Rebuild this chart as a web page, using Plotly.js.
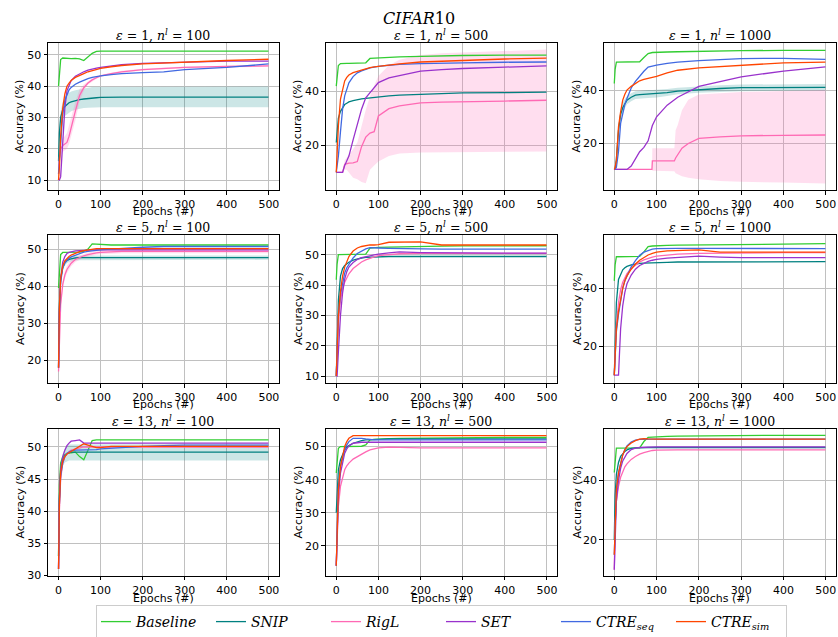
<!DOCTYPE html>
<html>
<head>
<meta charset="utf-8">
<script src="https://cdn.plot.ly/plotly-3.0.1.min.js"></script>
<style>html,body{margin:0;padding:0;background:#fff;}#chart{width:838px;height:637px;}</style>
</head>
<body>
<div id="chart"></div>
<script>
// ---------------- DATA ----------------
const methods = ['Baseline', 'SNIP', 'RigL', 'SET', 'CTRE<sub>seq</sub>', 'CTRE<sub>sim</sub>'];
const panelTitles = [
  '<i>ε</i> = 1, <i>n</i><sup><i>l</i></sup> = 100', '<i>ε</i> = 1, <i>n</i><sup><i>l</i></sup> = 500', '<i>ε</i> = 1, <i>n</i><sup><i>l</i></sup> = 1000',
  '<i>ε</i> = 5, <i>n</i><sup><i>l</i></sup> = 100', '<i>ε</i> = 5, <i>n</i><sup><i>l</i></sup> = 500', '<i>ε</i> = 5, <i>n</i><sup><i>l</i></sup> = 1000',
  '<i>ε</i> = 13, <i>n</i><sup><i>l</i></sup> = 100', '<i>ε</i> = 13, <i>n</i><sup><i>l</i></sup> = 500', '<i>ε</i> = 13, <i>n</i><sup><i>l</i></sup> = 1000'
];
const xTitle = 'Epochs (#)';
const yTitle = 'Accuracy (%)';
const epochs = [0, 2, 5, 10, 15, 20, 25, 30, 40, 50, 60, 70, 80, 90, 100, 125, 150, 200, 250, 300, 400, 499];
const xTicks = [0, 100, 200, 300, 400, 500];

// panel 1: eps=1, n=100
const p1_baseline = [40, 45, 48.5, 49, 48.9, 48.8, 48.8, 48.8, 48.9, 48.7, 48.2, 49.3, 50.5, 51.1, 51.2, 51.2, 51.2, 51.2, 51.2, 51.2, 51.2, 51.2];
const p1_snip     = [16, 25, 30, 32.5, 33.5, 34.2, 34.7, 35.0, 35.4, 35.7, 35.9, 36.1, 36.2, 36.3, 36.4, 36.5, 36.5, 36.5, 36.5, 36.5, 36.5, 36.5];
const p1_snip_lo  = [16, 24, 28, 30, 30.5, 31, 31.5, 32, 32.5, 32.8, 33, 33.1, 33.2, 33.2, 33.3, 33.3, 33.3, 33.3, 33.3, 33.3, 33.3, 33.3];
const p1_snip_hi  = [16, 26, 32, 35, 36.5, 37.5, 38, 38.3, 38.7, 39, 39.3, 39.5, 39.7, 39.8, 39.9, 39.9, 39.9, 39.9, 39.9, 39.9, 39.9, 39.9];
const p1_rigl     = [12, 17, 20, 21, 21.5, 22, 24, 27, 32, 37, 39.5, 41, 42, 42.7, 43.3, 44, 44.6, 45.3, 45.7, 46, 46.3, 46.5];
const p1_rigl_lo  = [12, 16, 18, 19, 19.5, 20, 21.5, 24, 29, 35, 38.5, 40.5, 41.5, 42.3, 43, 43.7, 44.3, 45, 45.4, 45.7, 46, 46.2];
const p1_rigl_hi  = [12, 18, 22, 23.5, 24, 25, 27, 30, 35, 39, 40.5, 41.5, 42.5, 43.1, 43.6, 44.3, 44.9, 45.6, 46, 46.3, 46.6, 46.8];
const p1_set      = [10, 10, 11, 22, 33, 38.5, 40.5, 41.8, 43.2, 44, 44.6, 45.1, 45.5, 45.8, 46, 46.5, 46.9, 47.3, 47.5, 47.7, 48, 48];
const p1_seq      = [12, 16, 22, 31, 35.5, 37.5, 38.8, 39.6, 40.6, 41.3, 41.9, 42.4, 42.8, 43.1, 43.3, 43.7, 44.0, 44.3, 44.6, 45.3, 46.0, 47.1];
const p1_sim      = [10, 14, 24, 33, 37.5, 40, 41, 41.8, 42.8, 43.5, 44, 44.6, 45, 45.4, 45.7, 46.2, 46.6, 47.1, 47.4, 47.7, 48.2, 48.6];

// panel 2: eps=1, n=500
const p2_baseline = [41.8, 46, 49.4, 50.1, 50.2, 50.2, 50.2, 50.2, 50.2, 50.2, 50.3, 50.4, 52, 52.1, 52.3, 52.5, 52.6, 52.8, 53, 53.1, 53.2, 53.2];
const p2_snip     = [21, 26, 30, 32.5, 34, 35, 35.5, 36, 36.5, 36.9, 37.1, 37.3, 37.5, 37.7, 37.8, 38.2, 38.5, 38.8, 39.1, 39.3, 39.4, 39.6];
const p2_rigl     = [10, 10, 10, 10, 10, 13, 13.3, 13.4, 13.5, 14, 19.5, 23, 24.5, 25, 30.8, 33.5, 34.5, 35.6, 35.9, 36.1, 36.3, 36.6];
const p2_rigl_lo  = [10, 10, 10, 10, 10, 11, 11, 10, 8, 7.5, 6.5, 6, 11, 12.5, 14, 16, 17, 17.3, 17.4, 17.5, 17.6, 17.7];
const p2_rigl_hi  = [10, 10, 10, 10, 10, 14.5, 15.5, 16.5, 18.5, 21, 27, 33, 38, 42, 45.5, 49.5, 51.5, 53.3, 53.9, 54.3, 54.8, 55.3];
const p2_set      = [10, 10, 10, 10, 10, 12.5, 14, 16, 22, 27.2, 33.3, 37.5, 39.5, 41.5, 43.1, 44.8, 45.6, 47.3, 47.9, 48.3, 48.8, 49.3];
const p2_seq      = [10, 12, 16, 25, 33.3, 38.2, 40.7, 43, 45.3, 46.7, 47.4, 48, 48.5, 48.8, 49.1, 49.5, 49.8, 50.1, 50.3, 50.4, 50.6, 50.7];
const p2_sim      = [10, 18, 27.2, 37, 41, 43.7, 45, 45.9, 46.8, 47.3, 47.8, 48.2, 48.6, 48.9, 49.1, 49.6, 50.0, 50.7, 51.0, 51.2, 51.8, 52.1];

// panel 3: eps=1, n=1000
const p3_baseline = [42.7, 48, 50.8, 50.8, 50.8, 50.8, 50.8, 50.8, 50.8, 50.8, 50.9, 52.5, 54, 54.4, 54.5, 54.6, 54.7, 54.9, 55, 55.1, 55.2, 55.2];
const p3_snip     = [10.2, 10.2, 14, 25, 31, 33.5, 35, 36.4, 37.5, 38.3, 38.5, 38.6, 38.7, 38.7, 38.7, 39.2, 39.8, 40.4, 40.8, 41.1, 41.2, 41.2];
const p3_snip_lo  = [10.2, 10.2, 13, 23, 29, 31.5, 33.3, 34.8, 36, 36.8, 37, 37.1, 37.2, 37.3, 37.4, 38, 38.6, 39.2, 39.6, 39.8, 39.9, 39.9];
const p3_snip_hi  = [10.2, 10.2, 15, 27, 33, 35.5, 36.8, 38, 39, 39.8, 40, 40.1, 40.2, 40.2, 40.2, 40.6, 41.1, 41.6, 42, 42.3, 42.5, 42.5];
const p3_rigl_x   = [0, 89, 90, 142, 145, 150, 160, 175, 200, 250, 300, 400, 499];
const p3_rigl     = [10.2, 10.2, 13.4, 13.4, 14.5, 15.6, 18.2, 20, 21.9, 22.5, 22.9, 23.1, 23.2];
const p3_rigl_lo  = [10.2, 10.2, 9.7, 9.5, 8.7, 8.3, 7.6, 7.0, 6.5, 5.8, 5.5, 5.2, 4.9];
const p3_rigl_hi  = [10.2, 10.2, 18.2, 18.2, 25, 27, 32.6, 36.5, 38.5, 39, 39.5, 39.9, 40.2];
const p3_set      = [10.2, 10.2, 10.2, 10.2, 10.2, 10.2, 10.2, 10.2, 11.5, 14.2, 16.9, 18.5, 21, 26.8, 30.1, 34.5, 37.5, 41.6, 43.3, 45.2, 47.4, 49];
const p3_seq      = [10.2, 10.2, 11, 17, 27.6, 31.5, 34.8, 37, 41, 43.5, 45.5, 47.3, 48.9, 49.3, 49.6, 50.3, 50.8, 51.3, 51.8, 52.1, 52.2, 51.8];
const p3_sim      = [10.2, 11, 13.7, 26.3, 32, 36.4, 38.6, 40.2, 41.6, 42.7, 43.7, 44.2, 44.6, 45.0, 45.4, 46.7, 47.7, 48.6, 49.1, 49.6, 50.5, 50.8];

// panel 4: eps=5, n=100
const p4_baseline = [39.5, 45, 48.5, 49.1, 49.1, 49.1, 49.1, 49.1, 49.1, 49.2, 49.4, 50, 51.4, 51.3, 51.2, 51.1, 51.1, 51.1, 51.1, 51.1, 51.1, 51.1];
const p4_snip     = [18, 35, 42, 45, 46.3, 46.9, 47.2, 47.4, 47.6, 47.7, 47.7, 47.7, 47.7, 47.7, 47.7, 47.7, 47.7, 47.7, 47.7, 47.7, 47.7, 47.7];
const p4_snip_lo  = [18, 34, 41, 44.2, 45.5, 46.2, 46.5, 46.7, 46.9, 47, 47, 47, 47, 47.1, 47.1, 47.1, 47.1, 47.1, 47.1, 47.1, 47.1, 47.1];
const p4_snip_hi  = [18, 36, 43, 45.8, 47.1, 47.6, 47.9, 48.1, 48.3, 48.4, 48.4, 48.4, 48.4, 48.3, 48.3, 48.3, 48.3, 48.3, 48.3, 48.3, 48.3, 48.3];
const p4_rigl     = [17, 28, 35, 40.5, 43, 44.5, 45.5, 46.2, 47.2, 47.8, 48.2, 48.5, 48.8, 49, 49.1, 49.3, 49.4, 49.4, 49.4, 49.4, 49.4, 49.4];
const p4_rigl_lo  = [17, 27, 34, 39.5, 42, 43.5, 44.6, 45.4, 46.5, 47.2, 47.7, 48, 48.3, 48.5, 48.6, 48.8, 48.9, 48.9, 48.9, 48.9, 48.9, 48.9];
const p4_rigl_hi  = [17, 29, 36, 41.5, 44, 45.5, 46.4, 47, 47.9, 48.4, 48.7, 49, 49.3, 49.5, 49.6, 49.8, 49.9, 49.9, 49.9, 49.9, 49.9, 49.9];
const p4_set      = [18, 33, 42, 46.5, 48, 48.8, 49.1, 49.3, 49.5, 49.6, 49.7, 49.8, 49.8, 49.8, 49.8, 49.8, 49.8, 49.8, 49.8, 49.8, 49.8, 49.8];
const p4_seq      = [18, 33, 41, 45, 46.3, 47, 47.5, 47.9, 48.4, 48.9, 49.2, 49.4, 49.6, 49.7, 49.8, 50, 50.2, 50.5, 50.7, 50.7, 50.7, 50.7];
const p4_sim      = [18, 34, 42, 45.5, 46.8, 47.5, 48, 48.4, 48.9, 49.3, 49.6, 49.8, 50, 50.1, 50.1, 50.1, 50.1, 50.1, 50.1, 50.1, 50.1, 50.1];

// panel 5: eps=5, n=500
const p5_baseline = [41.8, 47, 50.1, 50.1, 50.1, 50.1, 50.1, 50.1, 50.1, 50.1, 50.1, 50.3, 52.3, 52.5, 52.5, 52.6, 52.7, 52.8, 52.9, 53, 53, 53.05];
const p5_snip     = [10, 25, 35, 43, 45.5, 46.5, 47.2, 47.6, 48.3, 48.7, 49, 49.2, 49.3, 49.4, 49.5, 49.5, 49.5, 49.5, 49.5, 49.5, 49.5, 49.5];
const p5_rigl     = [10, 18, 28, 35, 39, 41, 42.5, 43.8, 45.5, 46.7, 47.7, 48.4, 49, 49.4, 49.8, 50.2, 50.4, 50.5, 50.5, 50.5, 50.5, 50.5];
const p5_set      = [10, 10, 18, 30, 37.5, 42, 44.5, 46, 47.5, 48.5, 49.1, 49.5, 49.7, 50, 50.3, 50.7, 51, 50.8, 50.7, 50.6, 50.6, 50.6];
const p5_seq      = [10, 20, 30, 37, 41, 44, 45.8, 47, 49, 50.5, 51.3, 52, 52.4, 52.3, 52.3, 52.2, 52.1, 52, 51.9, 51.9, 51.9, 51.9];
const p5_sim      = [10, 20, 30, 38, 43, 46, 48, 49.5, 51.3, 52.3, 52.8, 53.1, 53.3, 53.3, 53.4, 54.2, 54.3, 54.3, 53.3, 53.3, 53.3, 53.3];

// panel 6: eps=5, n=1000
const p6_baseline = [42.5, 48, 50.8, 50.8, 50.8, 50.8, 50.8, 50.8, 50.8, 50.8, 50.9, 52.5, 54.3, 54.5, 54.6, 54.7, 54.8, 54.9, 55, 55.1, 55.2, 55.3];
const p6_snip     = [10, 25, 35, 43, 45, 46.3, 47, 47.5, 48, 48.3, 48.5, 48.6, 48.7, 48.8, 48.8, 48.9, 49, 49, 49.1, 49.1, 49.1, 49.1];
const p6_rigl     = [10, 18, 27, 35, 39.5, 42, 43.8, 45, 46.8, 48, 49, 49.7, 50.3, 50.7, 51, 51.4, 51.7, 52, 52.1, 52.2, 52.2, 52.2];
const p6_set      = [10, 10, 10, 10, 26, 34, 38.5, 41.5, 44.5, 46.5, 47.8, 48.6, 49.2, 49.6, 49.9, 50.3, 50.6, 51, 50.7, 50.5, 50.5, 50.5];
const p6_seq      = [10, 18, 25, 31, 36, 40, 42.5, 44.3, 47.3, 49.5, 51.3, 52.4, 53, 53.4, 53.6, 53.7, 53.7, 53.7, 53.7, 53.6, 53.6, 53.6];
const p6_sim      = [10, 18, 26, 32, 36.5, 40, 42.5, 44.2, 46.5, 48.3, 49.6, 50.6, 51.4, 52, 52.4, 52.8, 53, 53.2, 52.4, 52.4, 52.4, 52.4];

// panel 7: eps=13, n=100
const p7_baseline = [33, 44, 47.5, 48.5, 48.8, 49, 49.1, 49.1, 49.2, 48.5, 48, 49.5, 51, 51.1, 51.1, 51.1, 51.1, 51.1, 51.1, 51.1, 51.1, 51.1];
const p7_snip     = [33, 42, 46, 48, 48.7, 49, 49.1, 49.2, 49.2, 49.2, 49.2, 49.2, 49.2, 49.2, 49.2, 49.2, 49.2, 49.2, 49.2, 49.2, 49.2, 49.2];
const p7_snip_lo  = [33, 41, 45, 47, 47.6, 47.8, 47.9, 47.9, 47.9, 47.9, 47.9, 47.9, 47.9, 47.9, 47.9, 47.9, 47.9, 47.9, 47.9, 47.9, 47.9, 47.9];
const p7_snip_hi  = [33, 43, 47, 49, 49.8, 50.2, 50.4, 50.5, 50.5, 50.5, 50.5, 50.5, 50.5, 50.5, 50.5, 50.5, 50.5, 50.5, 50.5, 50.5, 50.5, 50.5];
const p7_rigl     = [31, 40, 45, 47.5, 48.5, 49, 49.3, 49.5, 49.7, 49.9, 50, 50, 50, 50, 50, 50, 50, 50, 50, 50, 50, 50];
const p7_set      = [31, 42, 46.5, 48.5, 49.5, 50.2, 50.6, 50.9, 51, 51.1, 50.6, 50.6, 50.6, 50.6, 50.6, 50.6, 50.6, 50.6, 50.6, 50.6, 50.6, 50.6];
const p7_seq      = [31, 41, 45.5, 47.5, 48.5, 49, 49.2, 49.4, 49.5, 49.5, 49.5, 49.5, 49.6, 49.6, 49.7, 49.8, 50, 50.1, 50.2, 50.3, 50.3, 50.3];
const p7_sim      = [31, 41, 46, 47.8, 48.5, 48.9, 49.1, 49.3, 49.6, 50, 50.5, 50.3, 50.1, 49.9, 49.9, 50.1, 50.1, 50.1, 50.1, 50.1, 50.1, 50.1];

// panel 8: eps=13, n=500
const p8_baseline = [42, 46, 49.5, 50, 50, 50, 50, 50, 50, 50, 50.1, 50.5, 52, 52.2, 52.3, 52.4, 52.5, 52.6, 52.7, 52.8, 52.8, 52.8];
const p8_snip     = [30, 38, 43, 46, 47.8, 49, 49.8, 50.3, 51, 51.5, 51.8, 52, 52.1, 52.2, 52.2, 52.3, 52.3, 52.3, 52.3, 52.3, 52.3, 52.3];
const p8_rigl     = [14, 25, 32, 38, 41, 43, 44.2, 45, 46.2, 47, 47.8, 48.4, 49, 49.3, 49.6, 49.8, 49.7, 49.6, 49.6, 49.6, 49.6, 49.6];
const p8_set      = [14, 26, 35, 42, 45.5, 48, 49.3, 50.2, 51, 51.2, 51.3, 51.3, 51.3, 51.3, 51.3, 51.3, 51.3, 51.3, 51.3, 51.3, 51.3, 51.3];
const p8_seq      = [14, 28, 38, 44, 47, 49, 50.5, 51.5, 52.5, 52.6, 52.5, 52.3, 52.1, 52, 52, 52, 52, 52, 52, 52, 52, 52];
const p8_sim      = [14, 28, 37, 44, 47.5, 50, 51.5, 52.5, 53.3, 53.3, 53.3, 53.3, 53.3, 53.3, 53.3, 53.3, 53.3, 53.3, 53.3, 53.3, 53.3, 53.3];

// panel 9: eps=13, n=1000
const p9_baseline = [42.6, 47, 50.8, 50.8, 50.8, 50.8, 50.8, 50.8, 50.8, 50.8, 50.9, 53, 54.4, 54.5, 54.6, 54.7, 54.8, 54.9, 55, 55, 55.1, 55.1];
const p9_snip     = [20, 35, 42, 46, 48, 49, 49.7, 50.2, 50.7, 50.9, 51, 51, 51, 51, 51, 51, 51, 51, 51, 51, 51, 51];
const p9_rigl     = [10, 25, 33, 38, 41, 43, 44.5, 45.5, 47, 48, 48.8, 49.3, 49.7, 50, 50.1, 50.2, 50.2, 50.2, 50.2, 50.2, 50.2, 50.2];
const p9_set      = [10, 24, 33, 40, 44, 46.5, 48, 49, 50.3, 50.8, 51, 51.1, 51.2, 51.2, 51.2, 51.2, 51.2, 51.2, 51.2, 51.2, 51.2, 51.2];
const p9_seq      = [15, 28, 37, 42.5, 46, 48.5, 50.3, 51.5, 52.8, 53.5, 53.7, 53.8, 53.8, 53.8, 53.8, 53.8, 53.8, 53.8, 53.8, 53.8, 53.8, 53.8];
const p9_sim      = [15, 28, 37, 42.5, 46, 48.5, 50.2, 51.3, 52.5, 53.3, 53.8, 54.0, 53.9, 53.8, 53.8, 53.8, 53.8, 53.8, 53.8, 53.8, 53.8, 53.8];

const yRanges = [[6.8, 53.8], [3.5, 57.7], [2.4, 58], [13.9, 53.8], [7.7, 56.6], [7.3, 58.3], [29.9, 52.8], [10.9, 55.3], [7.9, 57.2]];
const yTicks = [[10, 20, 30, 40, 50], [20, 40], [20, 40], [20, 30, 40, 50], [10, 20, 30, 40, 50], [20, 40], [30, 35, 40, 45, 50], [20, 30, 40, 50], [20, 40]];

// ---------------- STYLE ----------------
const colors = ['#32cd32', '#008080', '#ff69b4', '#9932cc', '#4169e1', '#ff4500'];
const bandColors = ['rgba(50,205,50,0.25)', 'rgba(0,128,128,0.2)', 'rgba(255,105,180,0.22)', 'rgba(153,50,204,0.22)', 'rgba(65,105,225,0.2)', 'rgba(255,69,0,0.2)'];

const panels = [
  [p1_baseline, p1_snip, p1_rigl, p1_set, p1_seq, p1_sim],
  [p2_baseline, p2_snip, p2_rigl, p2_set, p2_seq, p2_sim],
  [p3_baseline, p3_snip, p3_rigl, p3_set, p3_seq, p3_sim],
  [p4_baseline, p4_snip, p4_rigl, p4_set, p4_seq, p4_sim],
  [p5_baseline, p5_snip, p5_rigl, p5_set, p5_seq, p5_sim],
  [p6_baseline, p6_snip, p6_rigl, p6_set, p6_seq, p6_sim],
  [p7_baseline, p7_snip, p7_rigl, p7_set, p7_seq, p7_sim],
  [p8_baseline, p8_snip, p8_rigl, p8_set, p8_seq, p8_sim],
  [p9_baseline, p9_snip, p9_rigl, p9_set, p9_seq, p9_sim]
];
// bands: [panel index, method index, x, lo, hi]
const bands = [
  [0, 1, epochs, p1_snip_lo, p1_snip_hi],
  [0, 2, epochs, p1_rigl_lo, p1_rigl_hi],
  [1, 2, epochs, p2_rigl_lo, p2_rigl_hi],
  [2, 1, epochs, p3_snip_lo, p3_snip_hi],
  [2, 2, p3_rigl_x, p3_rigl_lo, p3_rigl_hi],
  [3, 1, epochs, p4_snip_lo, p4_snip_hi],
  [3, 2, epochs, p4_rigl_lo, p4_rigl_hi],
  [6, 1, epochs, p7_snip_lo, p7_snip_hi]
];
const xOf = (pi, mi) => (pi === 2 && mi === 2) ? p3_rigl_x : epochs;

const colDom = [[0.0573, 0.3329], [0.3887, 0.6647], [0.7204, 0.9976]];
const rowDom = [[0.7017, 0.9325], [0.3987, 0.6311], [0.0958, 0.3265]];
const xTitleY = [212, 405, 598];
const yTitleX = [20, 298, 577];

const traces = [];
bands.forEach(b => {
  const [pi, mi, x, lo, hi] = b;
  const ax = pi === 0 ? '' : String(pi + 1);
  traces.push({
    type: 'scatter', mode: 'lines', xaxis: 'x' + ax, yaxis: 'y' + ax,
    x: x.concat(x.slice().reverse()), y: lo.concat(hi.slice().reverse()),
    fill: 'toself', fillcolor: bandColors[mi], line: {width: 0}, hoverinfo: 'skip', showlegend: false
  });
});
panels.forEach((series, pi) => {
  const ax = pi === 0 ? '' : String(pi + 1);
  series.forEach((y, mi) => {
    traces.push({
      type: 'scatter', mode: 'lines', xaxis: 'x' + ax, yaxis: 'y' + ax,
      x: xOf(pi, mi), y: y, name: methods[mi], legendgroup: methods[mi],
      line: {color: colors[mi], width: 1.3}, showlegend: pi === 0
    });
  });
});

const tickFont = {family: 'DejaVu Sans', size: 11, color: '#000'};
const layout = {
  width: 838, height: 637, autosize: false,
  margin: {l: 0, r: 0, t: 0, b: 0, autoexpand: false},
  paper_bgcolor: '#fff', plot_bgcolor: '#fff',
  title: {text: '<i>CIFAR</i>10', x: 0.5, xanchor: 'center', y: 1 - 18 / 637, yanchor: 'middle',
          font: {family: 'DejaVu Serif', size: 16, color: '#000'}},
  showlegend: true,
  legend: {orientation: 'h', x: 441.5 / 838, xanchor: 'center', y: 1 - 605 / 637, yanchor: 'top',
           bordercolor: '#cccccc', borderwidth: 1, bgcolor: '#fff',
           entrywidth: 70, entrywidthmode: 'pixels', valign: 'middle',
           font: {family: 'DejaVu Serif', size: 14, style: 'italic', color: '#000'}, itemwidth: 30},
  annotations: []
};
for (let pi = 0; pi < 9; pi++) {
  const ax = pi === 0 ? '' : String(pi + 1);
  const r = Math.floor(pi / 3), c = pi % 3;
  layout['xaxis' + ax] = {
    domain: colDom[c], anchor: 'y' + ax, range: [-25, 524], tickmode: 'array', tickvals: xTicks,
    showgrid: true, gridcolor: '#c0c0c0', gridwidth: 1, zeroline: false,
    showline: true, mirror: true, linecolor: '#000', linewidth: 1,
    ticks: 'outside', ticklen: 3.5, tickcolor: '#000', tickfont: tickFont, automargin: false
  };
  layout['yaxis' + ax] = {
    domain: rowDom[r], anchor: 'x' + ax, range: yRanges[pi], tickmode: 'array', tickvals: yTicks[pi],
    showgrid: true, gridcolor: '#c0c0c0', gridwidth: 1, zeroline: false,
    showline: true, mirror: true, linecolor: '#000', linewidth: 1,
    ticks: 'outside', ticklen: 3.5, tickcolor: '#000', tickfont: tickFont, automargin: false
  };
  const cx = (colDom[c][0] + colDom[c][1]) / 2;
  layout.annotations.push({
    text: panelTitles[pi], xref: 'paper', yref: 'paper',
    x: cx, y: rowDom[r][1], yshift: -2,
    xanchor: 'center', yanchor: 'bottom', showarrow: false,
    font: {family: 'DejaVu Serif', size: 12.5, color: '#000'}
  });
  layout.annotations.push({
    text: xTitle, xref: 'paper', yref: 'paper', x: cx, y: 1 - xTitleY[r] / 637,
    xanchor: 'center', yanchor: 'middle', showarrow: false, font: tickFont
  });
  layout.annotations.push({
    text: yTitle, xref: 'paper', yref: 'paper', x: yTitleX[c] / 838, y: (rowDom[r][0] + rowDom[r][1]) / 2,
    xanchor: 'center', yanchor: 'middle', textangle: -90, showarrow: false, font: tickFont
  });
}

Plotly.newPlot('chart', traces, layout, {displayModeBar: false, staticPlot: true});
</script>
</body>
</html>
